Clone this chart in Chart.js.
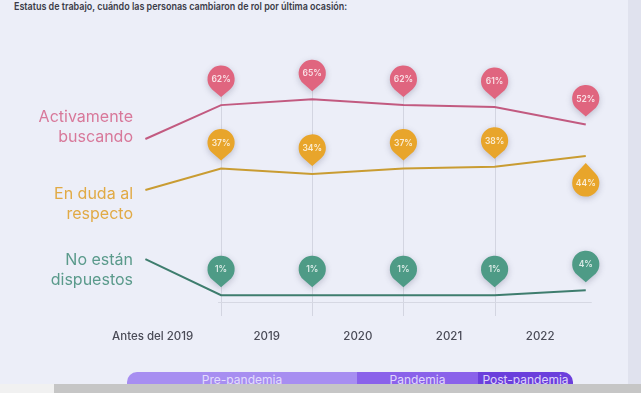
<!DOCTYPE html>
<html>
<head>
<meta charset="utf-8">
<script src="https://cdn.jsdelivr.net/npm/chart.js@4/dist/chart.umd.min.js"></script>
<style>
  html, body { margin:0; padding:0; }
  body { width:641px; height:393px; background:#eceef8; position:relative; overflow:hidden; font-family:Inter, "Noto Sans", sans-serif; }
  #band { position:absolute; left:628px; top:0; width:13px; height:393px; background:#e0e2ee; }
  #title { position:absolute; left:14px; top:0px; font-size:10.5px; font-weight:600; color:#3b3c48; line-height:14px; white-space:nowrap; transform:scaleX(0.855); transform-origin:left center; }
  canvas { position:absolute; left:0; top:0; }
  .slabel { position:absolute; right:508px; text-align:right; font-size:16px; line-height:20px; white-space:nowrap; }
  #periods { position:absolute; left:127px; top:372px; width:446px; height:22px; border-radius:10px; overflow:hidden; display:flex; }
  #periods div { height:22px; font-size:12px; line-height:16px; color:rgba(236,230,255,0.9); text-align:center; }
  #strip { position:absolute; left:54px; top:383.5px; width:587px; height:10px; background:#c6c6c6; }
  #strip2 { position:absolute; left:0; top:383.5px; width:54px; height:10px; background:#f1f1f1; }
</style>
</head>
<body>
<div id="band"></div>
<div id="title">Estatus de trabajo, cuándo las personas cambiaron de rol por última ocasión:</div>
<canvas id="c" width="641" height="393"></canvas>
<div class="slabel" style="top:106px;color:#d8789a;">Activamente<br>buscando</div>
<div class="slabel" style="top:183px;color:#e1aa45;">En duda al<br>respecto</div>
<div class="slabel" style="top:249px;color:#5a9a8b;">No están<br>dispuestos</div>
<div id="periods">
  <div style="width:230px;background:#a78ef1;">Pre-pandemia</div>
  <div style="width:121px;background:#8a62ea;">Pandemia</div>
  <div style="width:95px;background:#6b3fdc;">Post-pandemia</div>
</div>
<div id="strip2"></div>
<div id="strip"></div>
<script>
// ---- data ----
const categories = ['Antes del 2019', '2019', '2020', '2021', '2022'];
const tickPositions = [0.25, 1.5, 2.5, 3.5, 4.5];
const pinX = [1, 2, 3, 4, 5];
const startX = 0.17;
const activamente = [62, 65, 62, 61, 52];
const enDuda = [37, 34, 37, 38, 44];
const noDispuestos = [1, 1, 1, 1, 4];
const startValues = [44.5, 25.1, 22.6];

function series(start, vals) {
  return [{ x: startX, y: start }].concat(vals.map((v, i) => ({ x: pinX[i], y: v })));
}

const pinPlugin = {
  id: 'pins',
  beforeDatasetsDraw(chart) {
    const ctx = chart.ctx, xs = chart.scales.x, area = chart.chartArea;
    const pinkMeta = chart.getDatasetMeta(0);
    ctx.save();
    ctx.strokeStyle = '#d3d5e1';
    ctx.lineWidth = 1;
    for (let i = 0; i < pinX.length - 1; i++) {
      const px = Math.round(xs.getPixelForValue(pinX[i])) + 0.5;
      const top = pinkMeta.data[i + 1].y - 26;
      ctx.beginPath(); ctx.moveTo(px, top); ctx.lineTo(px, area.bottom + 14); ctx.stroke();
    }
    ctx.strokeStyle = '#d6d8e3';
    ctx.beginPath();
    ctx.moveTo(xs.getPixelForValue(pinX[0]) - 3, area.bottom + 0.5);
    ctx.lineTo(xs.getPixelForValue(pinX[pinX.length - 1]) + 6, area.bottom + 0.5);
    ctx.stroke();
    ctx.restore();
  },
  afterDatasetsDraw(chart) {
    const ctx = chart.ctx;
    chart.data.datasets.forEach((ds, di) => {
      const meta = chart.getDatasetMeta(di);
      meta.data.forEach((pt, j) => {
        if (j === 0) return;
        const down = ds.pinDown && ds.pinDown[j - 1];
        const r = 13.6, d = down ? 20 : 18;
        const cx = pt.x, cy = down ? pt.y + 27 : pt.y - 26;
        const dir = down ? -1 : 1;
        const phi = Math.acos(r / d);
        const base = down ? -Math.PI / 2 : Math.PI / 2;
        ctx.save();
        ctx.shadowColor = 'rgba(70,70,100,0.28)';
        ctx.shadowBlur = 6;
        ctx.shadowOffsetY = 2;
        ctx.fillStyle = ds.pinColor;
        ctx.beginPath();
        ctx.moveTo(cx, cy + dir * d);
        ctx.arc(cx, cy, r, base + phi, base - phi + Math.PI * 2, false);
        ctx.closePath();
        ctx.fill();
        ctx.restore();
        ctx.save();
        ctx.fillStyle = 'rgba(255,255,255,0.8)';
        ctx.font = '600 8.5px Inter, "Noto Sans", sans-serif';
        ctx.textAlign = 'center';
        ctx.textBaseline = 'middle';
        ctx.fillText(ds.data[j].y + '%', cx, cy + 0.5);
        ctx.restore();
      });
    });
  }
};

new Chart(document.getElementById('c'), {
  type: 'line',
  data: {
    datasets: [
      { label: 'Activamente buscando', data: series(startValues[0], activamente), yAxisID: 'y1',
        borderColor: '#c25a80', borderWidth: 2, pointRadius: 0, tension: 0, pinColor: '#e0657f' },
      { label: 'En duda al respecto', data: series(startValues[1], enDuda), yAxisID: 'y2',
        borderColor: '#c99c32', borderWidth: 2, pointRadius: 0, tension: 0, pinColor: '#e8a52b',
        pinDown: [false, false, false, false, true] },
      { label: 'No están dispuestos', data: series(startValues[2], noDispuestos), yAxisID: 'y3',
        borderColor: '#3e7d6e', borderWidth: 2, pointRadius: 0, tension: 0, pinColor: '#4e9b86' }
    ]
  },
  options: {
    responsive: false,
    devicePixelRatio: 1,
    animation: false,
    layout: { padding: { left: 139, right: 37, top: 40, bottom: 0 } },
    plugins: { legend: { display: false }, tooltip: { enabled: false } },
    scales: {
      x: {
        type: 'linear', min: 0.1, max: 5.2,
        grid: { display: false }, border: { display: false },
        afterBuildTicks: s => { s.ticks = tickPositions.map(v => ({ value: v })); },
        afterFit: s => { s.height = 91; },
        ticks: {
          callback: (v, i) => categories[i],
          autoSkip: false, maxRotation: 0, padding: 20,
          color: '#4a4b57', font: { family: 'Inter', size: 11.5, weight: 500 }
        }
      },
      y1: { display: false, min: -39.6, max: 95.6 },
      y2: { display: false, min: -37.3, max: 108.6 },
      y3: { display: false, min: -3.04, max: 153.8 }
    }
  },
  plugins: [pinPlugin]
});
</script>
</body>
</html>
